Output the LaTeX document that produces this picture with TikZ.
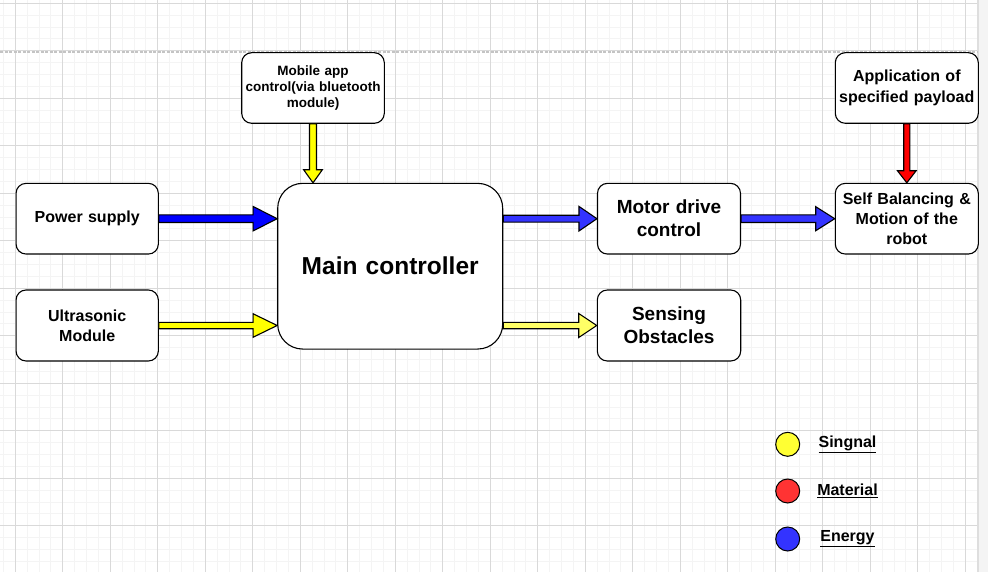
\documentclass[tikz,border=0pt]{standalone}
\usepackage{fontspec}
\setmainfont{Liberation Sans}
\usetikzlibrary{calc}
\definecolor{gridminor}{HTML}{F4F4F4}
\definecolor{gridmajor}{HTML}{D9D9D9}
\definecolor{pagebrk}{HTML}{C4C4C4}
\definecolor{sideband}{HTML}{F4F4F4}
\definecolor{sideline}{HTML}{DEDEDE}
\definecolor{ablue}{HTML}{0000FF}
\definecolor{lblue}{HTML}{3333FF}
\definecolor{ayel}{HTML}{FFFF00}
\definecolor{lyel}{HTML}{FFFF66}
\definecolor{ared}{HTML}{FF0000}
\definecolor{legy}{HTML}{FFFF33}
\definecolor{legr}{HTML}{FF3333}
\definecolor{legb}{HTML}{3333FF}
\newcommand\flexarrow[6]{%
  \coordinate (fa-h) at ($(#2)!#6!(#1)$);
  \filldraw[fill=#3, draw=black, line width=1.1pt, line join=miter]
    ($(#1)!#4!90:(#2)$) -- ($(fa-h)!#4!90:(#2)$) -- ($(fa-h)!#5!90:(#2)$) -- (#2)
    -- ($(fa-h)!#5!-90:(#2)$) -- ($(fa-h)!#4!-90:(#2)$) -- ($(#1)!#4!-90:(#2)$) -- cycle;
}
\tikzset{
  box/.style={draw=black, line width=1.1pt, rounded corners=10pt, fill=white,
    inner sep=0pt, align=center, font=\bfseries},
  legdot/.style={circle, draw=black, line width=1pt, minimum size=24pt, inner sep=0pt},
  legtxt/.style={font=\fontsize{16}{19}\selectfont\bfseries, inner sep=0pt},
}
\begin{document}
\begin{tikzpicture}[x=1pt, y=-1pt]
\useasboundingbox (0,0) rectangle (988,572);
\fill[white] (0,0) rectangle (988,572);
% grid
\foreach \i in {0,...,81} {\draw[gridminor, line width=1pt] ({3.425+11.875*\i},0) -- ({3.425+11.875*\i},572);}
\foreach \j in {0,...,47} {\draw[gridminor, line width=1pt] (0,{3.3+11.875*\j}) -- (978,{3.3+11.875*\j});}
\foreach \i in {0,...,20} {\draw[gridmajor, line width=1pt] ({15.3+47.5*\i},0) -- ({15.3+47.5*\i},572);}
\foreach \j in {0,...,11} {\draw[gridmajor, line width=1pt] (0,{3.3+47.5*\j}) -- (978,{3.3+47.5*\j});}
\fill[sideband] (978,0) rectangle (988,572);
\draw[sideline, line width=2pt] (978,0) -- (978,572);
\draw[pagebrk, line width=1.5pt, dash pattern=on 3pt off 1.5pt] (0,52) -- (978,52);

% nodes
\node[box, minimum width=142.6pt, minimum height=70.6pt, text width=141pt,
  font=\fontsize{13.5}{15.8}\selectfont\bfseries] (mob) at (313,88) {Mobile app\\control(via bluetooth\\module)};
\node[box, minimum width=143pt, minimum height=70.6pt, text width=141pt,
  font=\fontsize{16}{20.5}\selectfont\bfseries] (pay) at (906.8,88) {Application of\\specified payload};
\node[box, minimum width=143pt, minimum height=70.7pt, text width=141pt,
  font=\fontsize{16}{20}\selectfont\bfseries] (self) at (906.8,218.7) {Self Balancing \&\\Motion of the\\robot};
\node[box, minimum width=142.3pt, minimum height=70.7pt, text width=140pt,
  font=\fontsize{16}{20}\selectfont\bfseries] (pw) at (87.2,218.7) {Power supply};
\node[box, minimum width=142.3pt, minimum height=71pt, text width=140pt,
  font=\fontsize{16}{20}\selectfont\bfseries] (us) at (87.2,325.5) {Ultrasonic\\Module};
\node[box, rounded corners=25pt, minimum width=225pt, minimum height=165.7pt, text width=220pt,
  font=\fontsize{24.5}{29}\selectfont\bfseries] (mc) at (390.2,266.2) {Main controller};
\node[box, minimum width=143pt, minimum height=70.7pt, text width=141pt,
  font=\fontsize{19}{23}\selectfont\bfseries] (mot) at (669,218.7) {Motor drive\\control};
\node[box, minimum width=143.4pt, minimum height=71pt, text width=141pt,
  font=\fontsize{19}{23}\selectfont\bfseries] (sen) at (669,325.5) {Sensing\\Obstacles};

% connectors
\coordinate (t1) at (mc.west |- pw.east);
\flexarrow{pw.east}{t1}{ablue}{3.8pt}{12.2pt}{24pt}
\coordinate (t2) at (mc.west |- us.east);
\flexarrow{us.east}{t2}{ayel}{3.2pt}{11.7pt}{24pt}
\coordinate (s3) at (mc.east |- mot.west);
\flexarrow{s3}{mot.west}{lblue}{3.4pt}{12.3pt}{18pt}
\coordinate (s4) at (mc.east |- sen.west);
\flexarrow{s4}{sen.west}{lyel}{3.2pt}{12pt}{18pt}
\flexarrow{mot.east}{self.west}{lblue}{3.8pt}{12pt}{19pt}
\coordinate (t6) at (mob.south |- mc.north);
\flexarrow{mob.south}{t6}{ayel}{3.5pt}{9.3pt}{13pt}
\flexarrow{pay.south}{self.north}{ared}{3.1pt}{9.3pt}{12pt}

% legend
\node[legdot, fill=legy] (ly) at (787.7,444.3) {};
\node[legdot, fill=legr] (lr) at (787.7,491) {};
\node[legdot, fill=legb] (lb) at (787.7,539) {};
\node[legtxt] (lyt) at (847.5,444.3) {\underline{Singnal}};
\node[legtxt] (lrt) at (847.5,491) {\underline{Material}};
\node[legtxt] (lbt) at (847.5,539) {\underline{Energy}};
\end{tikzpicture}
\end{document}
